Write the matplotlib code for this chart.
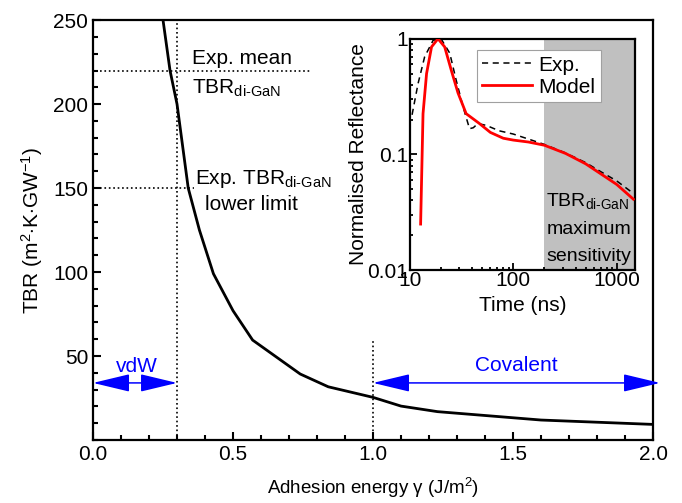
import numpy as np
import matplotlib
matplotlib.use('Agg')
import matplotlib.pyplot as plt
from matplotlib.patches import FancyArrowPatch
from matplotlib.ticker import MultipleLocator, FixedLocator, NullFormatter, LogLocator

plt.rcParams['font.family'] = ['Liberation Sans', 'DejaVu Sans']
plt.rcParams['mathtext.fontset'] = 'custom'
plt.rcParams['mathtext.rm'] = 'Liberation Sans'
plt.rcParams['mathtext.it'] = 'Liberation Sans:italic'
plt.rcParams['mathtext.bf'] = 'Liberation Sans:bold'

# main curve: TBR vs adhesion energy
gamma = [0.25, 0.275, 0.30, 0.34, 0.38, 0.43, 0.50, 0.57, 0.74, 0.84, 1.0, 1.10, 1.23, 1.60, 2.0]
tbr = [250, 220, 200, 150, 125, 99, 77, 59.5, 39.3, 31.7, 25.4, 20.2, 16.9, 11.9, 9.3]

# inset: normalised reflectance vs time
t_exp = [10.5, 12, 13.9, 16.8, 20, 24.3, 28, 32.6, 37.7, 41, 45.5, 55, 73, 100, 150, 200, 320, 500, 700, 1000, 1450]
r_exp = [0.22, 0.41, 0.70, 0.97, 1.0, 0.75, 0.44, 0.26, 0.167, 0.17, 0.185, 0.178, 0.16, 0.15, 0.133, 0.122, 0.103, 0.085, 0.071, 0.059, 0.046]
t_mod = [12.7, 13.4, 14.5, 16.2, 18.7, 21.7, 25.2, 29.2, 35, 47, 60, 80, 100, 140, 200, 320, 500, 700, 1000, 1450]
r_mod = [0.025, 0.225, 0.5, 0.85, 1.0, 0.85, 0.53, 0.34, 0.225, 0.185, 0.155, 0.138, 0.133, 0.128, 0.12, 0.102, 0.083, 0.068, 0.055, 0.041]

tbr_mean = 220
tbr_low = 150
vdw_limit = 0.3
cov_limit = 1.0
sens_start = 200

blue = '#0000ff'
fs = 15

fig = plt.figure(figsize=(6.82, 5.03), dpi=100)
ax = fig.add_axes([0.1364, 0.1252, 0.8211, 0.8348])

ax.plot(gamma, tbr, color='black', lw=2.0, zorder=3)
ax.set_xlim(0, 2.0)
ax.set_ylim(0, 250)

# dotted guide lines
ax.plot([vdw_limit, vdw_limit], [0, 250], ls=':', color='black', lw=1.2)
ax.plot([cov_limit, cov_limit], [0, 60], ls=':', color='black', lw=1.2)
ax.plot([0.025, 0.775], [tbr_mean, tbr_mean], ls=':', color='black', lw=1.2)
ax.plot([0.025, 0.36], [tbr_low, tbr_low], ls=':', color='black', lw=1.2)

ax.text(0.3525, 227, 'Exp. mean', fontsize=fs, va='center')
ax.text(0.3525, 209.5, r'TBR$_\text{di-GaN}$', fontsize=fs, va='center')
ax.text(0.364, 155.5, r'Exp. TBR$_\text{di-GaN}$', fontsize=fs, va='center')
ax.text(0.40, 140, 'lower limit', fontsize=fs, va='center')

# regime arrows
arr_style = '<|-|>,head_length=23,head_width=5.5'
ax.add_patch(FancyArrowPatch((0, 34), (vdw_limit, 34), arrowstyle=arr_style,
                             mutation_scale=1, color=blue, lw=1.1,
                             shrinkA=0, shrinkB=0, clip_on=False, zorder=4))
ax.add_patch(FancyArrowPatch((cov_limit, 34), (2.025, 34), arrowstyle=arr_style,
                             mutation_scale=1, color=blue, lw=1.1,
                             shrinkA=0, shrinkB=0, clip_on=False, zorder=4))
ax.text(0.156, 44, 'vdW', color=blue, fontsize=fs, ha='center', va='center')
ax.text(1.513, 44.6, 'Covalent', color=blue, fontsize=fs, ha='center', va='center')

ax.xaxis.set_major_locator(MultipleLocator(0.5))
ax.xaxis.set_minor_locator(MultipleLocator(0.1))
ax.yaxis.set_major_locator(FixedLocator([50, 100, 150, 200, 250]))
ax.yaxis.set_minor_locator(MultipleLocator(10))
ax.xaxis.set_major_formatter(matplotlib.ticker.FormatStrFormatter('%.1f'))
ax.tick_params(which='both', direction='in', width=1.5, labelsize=fs)
ax.tick_params(which='major', length=6)
ax.tick_params(which='minor', length=3.5)
for s in ax.spines.values():
    s.set_linewidth(1.6)

ax.set_xlabel('Adhesion energy γ (J/m$^2$)', fontsize=13.5, labelpad=9)
ax.set_ylabel(r'TBR (m$^2$$\cdot$K$\cdot$GW$^{-1}$)', fontsize=fs, labelpad=6)

# inset
ins = fig.add_axes([0.601, 0.463, 0.330, 0.460])
ins.axvspan(sens_start, 1500, color='#c0c0c0', lw=0, zorder=0)
ins.plot(t_exp, r_exp, ls=(0, (4, 3)), color='black', lw=1.1, label='Exp.', zorder=2)
ins.plot(t_mod, r_mod, color='red', lw=2.0, label='Model', zorder=3)
ins.set_xscale('log')
ins.set_yscale('log')
ins.set_xlim(10, 1500)
ins.set_ylim(0.01, 1)
ins.xaxis.set_major_locator(FixedLocator([10, 100, 1000]))
ins.xaxis.set_major_formatter(matplotlib.ticker.FixedFormatter(['10', '100', '1000']))
ins.yaxis.set_major_locator(FixedLocator([0.01, 0.1, 1]))
ins.yaxis.set_major_formatter(matplotlib.ticker.FixedFormatter(['0.01', '0.1', '1']))
ins.xaxis.set_minor_locator(LogLocator(base=10, subs=np.arange(2, 10)))
ins.yaxis.set_minor_locator(LogLocator(base=10, subs=np.arange(2, 10)))
ins.xaxis.set_minor_formatter(NullFormatter())
ins.yaxis.set_minor_formatter(NullFormatter())
ins.tick_params(which='both', direction='in', width=1.3, labelsize=fs, pad=1)
ins.tick_params(which='major', length=5)
ins.tick_params(which='minor', length=2.5)
for s in ins.spines.values():
    s.set_linewidth(1.6)
ins.set_xlabel('Time (ns)', fontsize=fs, labelpad=4)
ins.set_ylabel('Normalised Reflectance', fontsize=fs, labelpad=0)

ins.text(0.606, 0.30, r'TBR$_\text{di-GaN}$', transform=ins.transAxes, fontsize=14, va='center')
ins.text(0.606, 0.175, 'maximum', transform=ins.transAxes, fontsize=14, va='center')
ins.text(0.606, 0.06, 'sensitivity', transform=ins.transAxes, fontsize=14, va='center')

leg = ins.legend(loc='upper right', bbox_to_anchor=(0.849, 0.95), fontsize=fs,
                 fancybox=False, edgecolor='#a0a0a0', framealpha=1,
                 handlelength=2.4, borderaxespad=0, borderpad=0.25,
                 labelspacing=0.15, handletextpad=0.3)
leg.get_frame().set_linewidth(0.8)

fig.savefig('out.png', dpi=100)
